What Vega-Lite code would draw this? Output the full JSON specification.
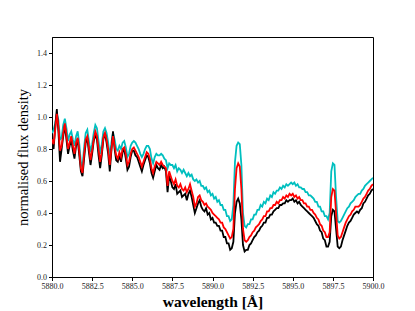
{
  "$schema": "https://vega.github.io/schema/vega-lite/v6.json",
  "width": 321,
  "height": 240,
  "autosize": "none",
  "padding": {"left": 52, "top": 37, "right": 42, "bottom": 34},
  "background": "white",
  "config": {
    "view": {"stroke": "#000000", "strokeWidth": 1},
    "font": "Liberation Serif",
    "axis": {
      "grid": false,
      "domainColor": "#000000",
      "tickColor": "#000000",
      "labelColor": "#222222",
      "labelFont": "Liberation Serif",
      "labelFontSize": 8,
      "labelOverlap": false,
      "labelFlush": false,
      "tickSize": 3.5,
      "labelPadding": 2,
      "titleFont": "Liberation Serif",
      "titleFontSize": 14,
      "titleColor": "#000000"
    }
  },
  "data": {
    "values": [
      {"x": 5880.0, "r": 0.86, "c": 0.90, "k": 0.84},
      {"x": 5880.1, "r": 0.83, "c": 0.92, "k": 0.80},
      {"x": 5880.2, "r": 0.92, "c": 0.96, "k": 0.94},
      {"x": 5880.3, "r": 1.02, "c": 1.02, "k": 1.05},
      {"x": 5880.4, "r": 0.94, "c": 0.98, "k": 0.91},
      {"x": 5880.5, "r": 0.79, "c": 0.86, "k": 0.72},
      {"x": 5880.6, "r": 0.82, "c": 0.87, "k": 0.80},
      {"x": 5880.7, "r": 0.90, "c": 0.95, "k": 0.88},
      {"x": 5880.8, "r": 0.96, "c": 0.99, "k": 0.95},
      {"x": 5880.9, "r": 0.89, "c": 0.93, "k": 0.86},
      {"x": 5881.0, "r": 0.80, "c": 0.85, "k": 0.77},
      {"x": 5881.1, "r": 0.84, "c": 0.89, "k": 0.82},
      {"x": 5881.2, "r": 0.88, "c": 0.91, "k": 0.86},
      {"x": 5881.3, "r": 0.82, "c": 0.86, "k": 0.79},
      {"x": 5881.4, "r": 0.77, "c": 0.82, "k": 0.74},
      {"x": 5881.5, "r": 0.84, "c": 0.88, "k": 0.82},
      {"x": 5881.6, "r": 0.87, "c": 0.91, "k": 0.86},
      {"x": 5881.7, "r": 0.79, "c": 0.83, "k": 0.76},
      {"x": 5881.8, "r": 0.68, "c": 0.72, "k": 0.66},
      {"x": 5881.9, "r": 0.65, "c": 0.69, "k": 0.63},
      {"x": 5882.0, "r": 0.77, "c": 0.81, "k": 0.74},
      {"x": 5882.1, "r": 0.86, "c": 0.90, "k": 0.84},
      {"x": 5882.2, "r": 0.88, "c": 0.92, "k": 0.87},
      {"x": 5882.3, "r": 0.81, "c": 0.85, "k": 0.78},
      {"x": 5882.4, "r": 0.73, "c": 0.78, "k": 0.70},
      {"x": 5882.5, "r": 0.79, "c": 0.83, "k": 0.77},
      {"x": 5882.6, "r": 0.86, "c": 0.90, "k": 0.85},
      {"x": 5882.7, "r": 0.91, "c": 0.95, "k": 0.89},
      {"x": 5882.8, "r": 0.88, "c": 0.93, "k": 0.86},
      {"x": 5882.9, "r": 0.80, "c": 0.85, "k": 0.76},
      {"x": 5883.0, "r": 0.72, "c": 0.77, "k": 0.68},
      {"x": 5883.1, "r": 0.78, "c": 0.83, "k": 0.76},
      {"x": 5883.2, "r": 0.87, "c": 0.91, "k": 0.86},
      {"x": 5883.3, "r": 0.90, "c": 0.93, "k": 0.90},
      {"x": 5883.4, "r": 0.86, "c": 0.90, "k": 0.84},
      {"x": 5883.5, "r": 0.80, "c": 0.84, "k": 0.77},
      {"x": 5883.6, "r": 0.70, "c": 0.75, "k": 0.66},
      {"x": 5883.7, "r": 0.80, "c": 0.84, "k": 0.79},
      {"x": 5883.8, "r": 0.88, "c": 0.90, "k": 0.91},
      {"x": 5883.9, "r": 0.82, "c": 0.86, "k": 0.80},
      {"x": 5884.0, "r": 0.76, "c": 0.80, "k": 0.73},
      {"x": 5884.1, "r": 0.74, "c": 0.79, "k": 0.72},
      {"x": 5884.2, "r": 0.78, "c": 0.82, "k": 0.76},
      {"x": 5884.3, "r": 0.75, "c": 0.80, "k": 0.72},
      {"x": 5884.4, "r": 0.80, "c": 0.84, "k": 0.78},
      {"x": 5884.5, "r": 0.81, "c": 0.85, "k": 0.80},
      {"x": 5884.6, "r": 0.77, "c": 0.81, "k": 0.74},
      {"x": 5884.7, "r": 0.70, "c": 0.75, "k": 0.67},
      {"x": 5884.8, "r": 0.72, "c": 0.77, "k": 0.69},
      {"x": 5884.9, "r": 0.77, "c": 0.82, "k": 0.75},
      {"x": 5885.0, "r": 0.80, "c": 0.84, "k": 0.79},
      {"x": 5885.1, "r": 0.81, "c": 0.85, "k": 0.79},
      {"x": 5885.2, "r": 0.79, "c": 0.84, "k": 0.76},
      {"x": 5885.3, "r": 0.77, "c": 0.82, "k": 0.75},
      {"x": 5885.4, "r": 0.75, "c": 0.80, "k": 0.72},
      {"x": 5885.5, "r": 0.72, "c": 0.77, "k": 0.69},
      {"x": 5885.6, "r": 0.69, "c": 0.75, "k": 0.66},
      {"x": 5885.7, "r": 0.72, "c": 0.77, "k": 0.70},
      {"x": 5885.8, "r": 0.75, "c": 0.80, "k": 0.73},
      {"x": 5885.9, "r": 0.78, "c": 0.82, "k": 0.76},
      {"x": 5886.0, "r": 0.77, "c": 0.82, "k": 0.75},
      {"x": 5886.1, "r": 0.74, "c": 0.80, "k": 0.71},
      {"x": 5886.2, "r": 0.68, "c": 0.74, "k": 0.65},
      {"x": 5886.3, "r": 0.65, "c": 0.71, "k": 0.62},
      {"x": 5886.4, "r": 0.69, "c": 0.75, "k": 0.66},
      {"x": 5886.5, "r": 0.72, "c": 0.77, "k": 0.70},
      {"x": 5886.6, "r": 0.71, "c": 0.76, "k": 0.68},
      {"x": 5886.7, "r": 0.70, "c": 0.76, "k": 0.67},
      {"x": 5886.8, "r": 0.72, "c": 0.77, "k": 0.70},
      {"x": 5886.9, "r": 0.70, "c": 0.76, "k": 0.68},
      {"x": 5887.0, "r": 0.69, "c": 0.74, "k": 0.69},
      {"x": 5887.1, "r": 0.68, "c": 0.73, "k": 0.66},
      {"x": 5887.2, "r": 0.57, "c": 0.68, "k": 0.53},
      {"x": 5887.3, "r": 0.66, "c": 0.71, "k": 0.63},
      {"x": 5887.4, "r": 0.63, "c": 0.70, "k": 0.60},
      {"x": 5887.5, "r": 0.60, "c": 0.70, "k": 0.56},
      {"x": 5887.6, "r": 0.58, "c": 0.68, "k": 0.55},
      {"x": 5887.7, "r": 0.61, "c": 0.70, "k": 0.58},
      {"x": 5887.8, "r": 0.57, "c": 0.66, "k": 0.52},
      {"x": 5887.9, "r": 0.56, "c": 0.68, "k": 0.53},
      {"x": 5888.0, "r": 0.58, "c": 0.67, "k": 0.54},
      {"x": 5888.1, "r": 0.55, "c": 0.65, "k": 0.50},
      {"x": 5888.2, "r": 0.54, "c": 0.67, "k": 0.51},
      {"x": 5888.3, "r": 0.56, "c": 0.65, "k": 0.52},
      {"x": 5888.4, "r": 0.53, "c": 0.63, "k": 0.48},
      {"x": 5888.5, "r": 0.55, "c": 0.65, "k": 0.52},
      {"x": 5888.6, "r": 0.58, "c": 0.63, "k": 0.54},
      {"x": 5888.7, "r": 0.54, "c": 0.64, "k": 0.50},
      {"x": 5888.8, "r": 0.50, "c": 0.61, "k": 0.45},
      {"x": 5888.9, "r": 0.44, "c": 0.60, "k": 0.40},
      {"x": 5889.0, "r": 0.46, "c": 0.61, "k": 0.43},
      {"x": 5889.1, "r": 0.50, "c": 0.59, "k": 0.46},
      {"x": 5889.2, "r": 0.51, "c": 0.60, "k": 0.48},
      {"x": 5889.3, "r": 0.48, "c": 0.57, "k": 0.44},
      {"x": 5889.4, "r": 0.47, "c": 0.57, "k": 0.42},
      {"x": 5889.5, "r": 0.45, "c": 0.55, "k": 0.41},
      {"x": 5889.6, "r": 0.46, "c": 0.56, "k": 0.43},
      {"x": 5889.7, "r": 0.44, "c": 0.53, "k": 0.39},
      {"x": 5889.8, "r": 0.43, "c": 0.54, "k": 0.40},
      {"x": 5889.9, "r": 0.42, "c": 0.51, "k": 0.36},
      {"x": 5890.0, "r": 0.40, "c": 0.52, "k": 0.37},
      {"x": 5890.1, "r": 0.39, "c": 0.49, "k": 0.34},
      {"x": 5890.2, "r": 0.38, "c": 0.50, "k": 0.34},
      {"x": 5890.3, "r": 0.37, "c": 0.47, "k": 0.32},
      {"x": 5890.4, "r": 0.36, "c": 0.48, "k": 0.32},
      {"x": 5890.5, "r": 0.34, "c": 0.45, "k": 0.29},
      {"x": 5890.6, "r": 0.34, "c": 0.45, "k": 0.29},
      {"x": 5890.7, "r": 0.31, "c": 0.42, "k": 0.25},
      {"x": 5890.8, "r": 0.30, "c": 0.42, "k": 0.25},
      {"x": 5890.9, "r": 0.28, "c": 0.38, "k": 0.21},
      {"x": 5891.0, "r": 0.26, "c": 0.38, "k": 0.21},
      {"x": 5891.1, "r": 0.24, "c": 0.35, "k": 0.17},
      {"x": 5891.2, "r": 0.25, "c": 0.36, "k": 0.18},
      {"x": 5891.3, "r": 0.30, "c": 0.45, "k": 0.22},
      {"x": 5891.4, "r": 0.55, "c": 0.72, "k": 0.40},
      {"x": 5891.5, "r": 0.68, "c": 0.82, "k": 0.47},
      {"x": 5891.6, "r": 0.71, "c": 0.84, "k": 0.49},
      {"x": 5891.7, "r": 0.69, "c": 0.83, "k": 0.46},
      {"x": 5891.8, "r": 0.55, "c": 0.70, "k": 0.36},
      {"x": 5891.9, "r": 0.30, "c": 0.40, "k": 0.20},
      {"x": 5892.0, "r": 0.23, "c": 0.32, "k": 0.16},
      {"x": 5892.1, "r": 0.22, "c": 0.31, "k": 0.17},
      {"x": 5892.2, "r": 0.23, "c": 0.33, "k": 0.17},
      {"x": 5892.3, "r": 0.25, "c": 0.33, "k": 0.20},
      {"x": 5892.4, "r": 0.26, "c": 0.36, "k": 0.21},
      {"x": 5892.5, "r": 0.28, "c": 0.36, "k": 0.23},
      {"x": 5892.6, "r": 0.29, "c": 0.39, "k": 0.25},
      {"x": 5892.7, "r": 0.31, "c": 0.39, "k": 0.26},
      {"x": 5892.8, "r": 0.32, "c": 0.42, "k": 0.28},
      {"x": 5892.9, "r": 0.33, "c": 0.42, "k": 0.29},
      {"x": 5893.0, "r": 0.35, "c": 0.45, "k": 0.31},
      {"x": 5893.1, "r": 0.36, "c": 0.44, "k": 0.32},
      {"x": 5893.2, "r": 0.38, "c": 0.47, "k": 0.34},
      {"x": 5893.3, "r": 0.38, "c": 0.46, "k": 0.34},
      {"x": 5893.4, "r": 0.41, "c": 0.49, "k": 0.37},
      {"x": 5893.5, "r": 0.41, "c": 0.48, "k": 0.37},
      {"x": 5893.6, "r": 0.43, "c": 0.51, "k": 0.39},
      {"x": 5893.7, "r": 0.43, "c": 0.50, "k": 0.39},
      {"x": 5893.8, "r": 0.45, "c": 0.53, "k": 0.41},
      {"x": 5893.9, "r": 0.45, "c": 0.52, "k": 0.42},
      {"x": 5894.0, "r": 0.47, "c": 0.54, "k": 0.43},
      {"x": 5894.1, "r": 0.46, "c": 0.54, "k": 0.43},
      {"x": 5894.2, "r": 0.48, "c": 0.56, "k": 0.45},
      {"x": 5894.3, "r": 0.48, "c": 0.55, "k": 0.45},
      {"x": 5894.4, "r": 0.50, "c": 0.57, "k": 0.46},
      {"x": 5894.5, "r": 0.49, "c": 0.56, "k": 0.46},
      {"x": 5894.6, "r": 0.51, "c": 0.58, "k": 0.48},
      {"x": 5894.7, "r": 0.50, "c": 0.57, "k": 0.47},
      {"x": 5894.8, "r": 0.52, "c": 0.58, "k": 0.48},
      {"x": 5894.9, "r": 0.51, "c": 0.59, "k": 0.48},
      {"x": 5895.0, "r": 0.52, "c": 0.58, "k": 0.49},
      {"x": 5895.1, "r": 0.50, "c": 0.59, "k": 0.47},
      {"x": 5895.2, "r": 0.51, "c": 0.57, "k": 0.48},
      {"x": 5895.3, "r": 0.49, "c": 0.58, "k": 0.46},
      {"x": 5895.4, "r": 0.50, "c": 0.56, "k": 0.47},
      {"x": 5895.5, "r": 0.48, "c": 0.56, "k": 0.45},
      {"x": 5895.6, "r": 0.48, "c": 0.55, "k": 0.44},
      {"x": 5895.7, "r": 0.46, "c": 0.55, "k": 0.43},
      {"x": 5895.8, "r": 0.46, "c": 0.53, "k": 0.42},
      {"x": 5895.9, "r": 0.44, "c": 0.53, "k": 0.41},
      {"x": 5896.0, "r": 0.44, "c": 0.51, "k": 0.40},
      {"x": 5896.1, "r": 0.42, "c": 0.51, "k": 0.39},
      {"x": 5896.2, "r": 0.42, "c": 0.50, "k": 0.38},
      {"x": 5896.3, "r": 0.40, "c": 0.49, "k": 0.37},
      {"x": 5896.4, "r": 0.39, "c": 0.47, "k": 0.35},
      {"x": 5896.5, "r": 0.37, "c": 0.47, "k": 0.33},
      {"x": 5896.6, "r": 0.36, "c": 0.44, "k": 0.32},
      {"x": 5896.7, "r": 0.33, "c": 0.44, "k": 0.29},
      {"x": 5896.8, "r": 0.32, "c": 0.41, "k": 0.28},
      {"x": 5896.9, "r": 0.29, "c": 0.41, "k": 0.24},
      {"x": 5897.0, "r": 0.28, "c": 0.38, "k": 0.23},
      {"x": 5897.1, "r": 0.25, "c": 0.38, "k": 0.19},
      {"x": 5897.2, "r": 0.25, "c": 0.36, "k": 0.19},
      {"x": 5897.3, "r": 0.28, "c": 0.40, "k": 0.22},
      {"x": 5897.4, "r": 0.50, "c": 0.66, "k": 0.38},
      {"x": 5897.5, "r": 0.55, "c": 0.71, "k": 0.42},
      {"x": 5897.6, "r": 0.54, "c": 0.70, "k": 0.41},
      {"x": 5897.7, "r": 0.40, "c": 0.50, "k": 0.30},
      {"x": 5897.8, "r": 0.26, "c": 0.35, "k": 0.19},
      {"x": 5897.9, "r": 0.24, "c": 0.34, "k": 0.18},
      {"x": 5898.0, "r": 0.25, "c": 0.35, "k": 0.19},
      {"x": 5898.1, "r": 0.28, "c": 0.37, "k": 0.23},
      {"x": 5898.2, "r": 0.31, "c": 0.39, "k": 0.26},
      {"x": 5898.3, "r": 0.34, "c": 0.41, "k": 0.29},
      {"x": 5898.4, "r": 0.36, "c": 0.43, "k": 0.32},
      {"x": 5898.5, "r": 0.38, "c": 0.44, "k": 0.34},
      {"x": 5898.6, "r": 0.39, "c": 0.46, "k": 0.35},
      {"x": 5898.7, "r": 0.41, "c": 0.47, "k": 0.37},
      {"x": 5898.8, "r": 0.42, "c": 0.48, "k": 0.39},
      {"x": 5898.9, "r": 0.44, "c": 0.50, "k": 0.40},
      {"x": 5899.0, "r": 0.44, "c": 0.51, "k": 0.41},
      {"x": 5899.1, "r": 0.44, "c": 0.52, "k": 0.40},
      {"x": 5899.2, "r": 0.45, "c": 0.52, "k": 0.42},
      {"x": 5899.3, "r": 0.47, "c": 0.54, "k": 0.43},
      {"x": 5899.4, "r": 0.49, "c": 0.55, "k": 0.46},
      {"x": 5899.5, "r": 0.50, "c": 0.57, "k": 0.47},
      {"x": 5899.6, "r": 0.52, "c": 0.58, "k": 0.49},
      {"x": 5899.7, "r": 0.54, "c": 0.59, "k": 0.51},
      {"x": 5899.8, "r": 0.55, "c": 0.60, "k": 0.52},
      {"x": 5899.9, "r": 0.57, "c": 0.61, "k": 0.54},
      {"x": 5900.0, "r": 0.58, "c": 0.62, "k": 0.55}
    ]
  },
  "encoding": {
    "x": {
      "field": "x",
      "type": "quantitative",
      "scale": {"domain": [5880, 5900], "nice": false, "zero": false},
      "axis": {
        "values": [5880, 5882.5, 5885, 5887.5, 5890, 5892.5, 5895, 5897.5, 5900],
        "format": ".1f",
        "title": "wavelength [Å]",
        "titleFontSize": 15.5,
        "titleFontWeight": "bold",
        "titlePadding": 4
      }
    }
  },
  "layer": [
    {
      "mark": {"type": "line", "color": "#00bfbf", "strokeWidth": 1.8, "clip": true},
      "encoding": {
        "y": {
          "field": "c",
          "type": "quantitative",
          "scale": {"domain": [0, 1.5], "nice": false},
          "axis": {
            "values": [0, 0.2, 0.4, 0.6, 0.8, 1.0, 1.2, 1.4],
            "format": ".1f",
            "title": "normalised flux density",
            "titleFontSize": 14.5,
            "titleFontWeight": "normal",
            "titlePadding": 6
          }
        }
      }
    },
    {
      "mark": {"type": "line", "color": "#000000", "strokeWidth": 1.8, "clip": true},
      "encoding": {
        "y": {
          "field": "k",
          "type": "quantitative",
          "scale": {"domain": [0, 1.5], "nice": false},
          "axis": {
            "values": [0, 0.2, 0.4, 0.6, 0.8, 1.0, 1.2, 1.4],
            "format": ".1f",
            "title": "normalised flux density",
            "titleFontSize": 14.5,
            "titleFontWeight": "normal",
            "titlePadding": 6
          }
        }
      }
    },
    {
      "mark": {"type": "line", "color": "#ff0000", "strokeWidth": 1.8, "clip": true},
      "encoding": {
        "y": {
          "field": "r",
          "type": "quantitative",
          "scale": {"domain": [0, 1.5], "nice": false},
          "axis": {
            "values": [0, 0.2, 0.4, 0.6, 0.8, 1.0, 1.2, 1.4],
            "format": ".1f",
            "title": "normalised flux density",
            "titleFontSize": 14.5,
            "titleFontWeight": "normal",
            "titlePadding": 6
          }
        }
      }
    }
  ]
}
